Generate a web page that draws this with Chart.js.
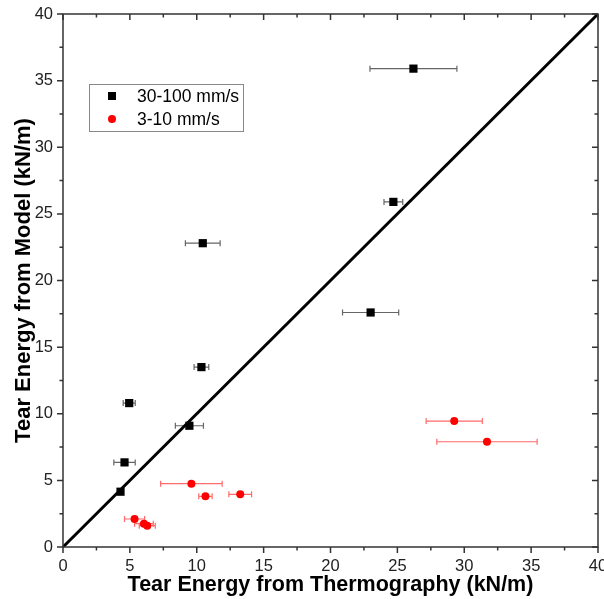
<!DOCTYPE html>
<html>
<head>
<meta charset="utf-8">
<script src="https://cdn.jsdelivr.net/npm/chart.js@4.4.1/dist/chart.umd.min.js"></script>
<style>
  html, body { margin: 0; padding: 0; background: #fff; }
  #wrap { width: 604px; height: 599px; }
</style>
</head>
<body>
<div id="wrap"><canvas id="chart" width="604" height="599"></canvas></div>
<script>
// 30-100 mm/s series (black squares)
const fastLabel = '30-100 mm/s';
const fastX    = [26.2, 24.7, 10.45, 23.0, 10.35, 4.95, 9.45, 4.6, 4.3];
const fastY    = [35.9, 25.9, 22.8, 17.6, 13.5, 10.8, 9.1, 6.35, 4.15];
const fastXErr = [3.25, 0.7, 1.3, 2.1, 0.55, 0.45, 1.05, 0.8, 0];

// 3-10 mm/s series (red circles)
const slowLabel = '3-10 mm/s';
const slowX    = [29.25, 31.7, 9.6, 13.25, 10.65, 5.35, 6.05, 6.3];
const slowY    = [9.45, 7.9, 4.75, 3.95, 3.8, 2.1, 1.75, 1.6];
const slowXErr = [2.1, 3.75, 2.3, 0.85, 0.5, 0.75, 0.7, 0.6];

// y = x reference line
const lineX = [0, 40];
const lineY = [0, 40];

const axisMin = 0, axisMax = 40, minorStep = 2.5, majorStep = 5;
const fontFamily = "Arial, 'Liberation Sans', sans-serif";

function toPoints(xs, ys, errs) {
  return xs.map((x, i) => ({ x: x, y: ys[i], xErr: errs ? errs[i] : 0 }));
}

const errorBars = {
  id: 'errorBars',
  beforeDatasetsDraw(chart) {
    const ctx = chart.ctx, xs = chart.scales.x, ys = chart.scales.y;
    ctx.save();
    chart.data.datasets.forEach(ds => {
      if (!ds.errColor) return;
      ctx.strokeStyle = ds.errColor;
      ctx.lineWidth = 1.2;
      ds.data.forEach(p => {
        if (!p.xErr) return;
        const y = ys.getPixelForValue(p.y);
        const x1 = xs.getPixelForValue(p.x - p.xErr);
        const x2 = xs.getPixelForValue(p.x + p.xErr);
        ctx.beginPath();
        ctx.moveTo(x1, y); ctx.lineTo(x2, y);
        ctx.moveTo(x1, y - 3); ctx.lineTo(x1, y + 3);
        ctx.moveTo(x2, y - 3); ctx.lineTo(x2, y + 3);
        ctx.stroke();
      });
    });
    ctx.restore();
  }
};

const frameTicks = {
  id: 'frameTicks',
  afterDraw(chart) {
    const ctx = chart.ctx, a = chart.chartArea;
    const xs = chart.scales.x, ys = chart.scales.y;
    ctx.save();
    ctx.strokeStyle = '#333';
    ctx.lineWidth = 1.5;
    ctx.strokeRect(a.left, a.top, a.right - a.left, a.bottom - a.top);
    ctx.beginPath();
    xs.ticks.forEach(t => {
      const px = xs.getPixelForValue(t.value);
      const len = t.value % majorStep === 0 ? 6 : 3.5;
      ctx.moveTo(px, a.bottom); ctx.lineTo(px, a.bottom + len);
      ctx.moveTo(px, a.top); ctx.lineTo(px, a.top + len);
    });
    ys.ticks.forEach(t => {
      const py = ys.getPixelForValue(t.value);
      const len = t.value % majorStep === 0 ? 6 : 3.5;
      ctx.moveTo(a.left, py); ctx.lineTo(a.left - len, py);
      ctx.moveTo(a.right, py); ctx.lineTo(a.right - len, py);
    });
    ctx.stroke();

    // legend box
    const bx = 89, by = 84, bw = 154, bh = 47;
    ctx.lineWidth = 1;
    ctx.strokeStyle = '#888';
    ctx.fillStyle = '#fff';
    ctx.fillRect(bx, by, bw, bh);
    ctx.strokeRect(bx + 0.5, by + 0.5, bw, bh);
    ctx.font = '17.5px ' + fontFamily;
    ctx.textBaseline = 'middle';
    ctx.fillStyle = '#000';
    ctx.fillRect(108, 92, 8, 8);
    ctx.fillText(fastLabel, 137, 97);
    ctx.fillStyle = '#ff0000';
    ctx.beginPath();
    ctx.arc(112, 119, 4, 0, Math.PI * 2);
    ctx.fill();
    ctx.fillStyle = '#000';
    ctx.fillText(slowLabel, 137, 120);
    ctx.restore();
  }
};

new Chart(document.getElementById('chart'), {
  type: 'scatter',
  data: {
    datasets: [
      {
        label: fastLabel,
        data: toPoints(fastX, fastY, fastXErr),
        pointStyle: 'rect',
        pointRadius: 5.8,
        backgroundColor: '#000',
        borderColor: '#000',
        borderWidth: 0,
        errColor: '#666'
      },
      {
        label: slowLabel,
        data: toPoints(slowX, slowY, slowXErr),
        pointStyle: 'circle',
        pointRadius: 4,
        backgroundColor: '#ff0000',
        borderColor: '#ff0000',
        borderWidth: 0,
        errColor: '#ff6a6a'
      },
      {
        type: 'line',
        label: 'y = x',
        data: toPoints(lineX, lineY),
        borderColor: '#000',
        borderWidth: 3,
        pointRadius: 0,
        fill: false
      }
    ]
  },
  options: {
    responsive: false,
    animation: false,
    layout: { padding: { top: 14, right: 6, left: 0, bottom: 0 } },
    plugins: { legend: { display: false }, tooltip: { enabled: false } },
    scales: {
      x: {
        type: 'linear',
        min: axisMin, max: axisMax,
        afterFit(s) { s.height = 52; s.paddingLeft = 0; s.paddingRight = 0; },
        grid: { display: false, drawTicks: false },
        border: { display: false },
        ticks: {
          stepSize: minorStep,
          autoSkip: false,
          maxRotation: 0,
          padding: 10,
          color: '#222',
          font: { family: fontFamily, size: 16.5 },
          callback: v => (v % majorStep === 0 ? v : '')
        },
        title: {
          display: true,
          text: 'Tear Energy from Thermography (kN/m)',
          color: '#000',
          font: { family: fontFamily, size: 21.5, weight: 'bold' },
          padding: { top: 1, bottom: 1 }
        }
      },
      y: {
        type: 'linear',
        min: axisMin, max: axisMax,
        afterFit(s) { s.width = 63; s.paddingTop = 0; s.paddingBottom = 0; },
        grid: { display: false, drawTicks: false },
        border: { display: false },
        ticks: {
          stepSize: minorStep,
          autoSkip: false,
          padding: 10,
          color: '#222',
          font: { family: fontFamily, size: 16.5 },
          callback: v => (v % majorStep === 0 ? v : '')
        },
        title: {
          display: true,
          text: 'Tear Energy from Model (kN/m)',
          color: '#000',
          font: { family: fontFamily, size: 22, weight: 'bold' },
          padding: { top: 11, bottom: 0 }
        }
      }
    }
  },
  plugins: [errorBars, frameTicks]
});
</script>
</body>
</html>
